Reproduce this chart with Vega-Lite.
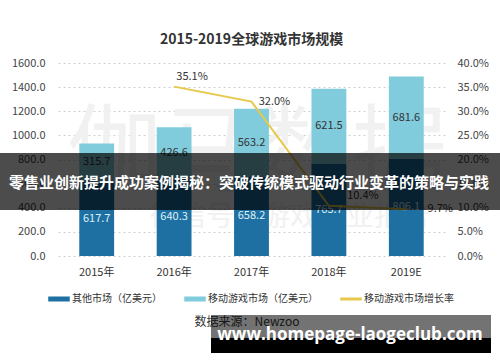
{
  "$schema": "https://vega.github.io/schema/vega-lite/v6.json",
  "width": 387,
  "height": 193,
  "autosize": {"type": "none"},
  "padding": {"left": 58, "top": 63, "right": 55, "bottom": 106},
  "background": "white",
  "config": {
    "font": "Noto Sans CJK SC",
    "view": {"stroke": null},
    "axis": {"labelFont": "Noto Sans CJK SC", "labelColor": "#444", "labelFontSize": 11, "labelOverlap": false}
  },
  "title": {
    "text": "2015-2019全球游戏市场规模",
    "fontSize": 14,
    "fontWeight": "bold",
    "color": "#333",
    "anchor": "middle",
    "frame": "group",
    "offset": 10
  },
  "datasets": {
    "bars": [
      {"year": "2015年", "series": "其他市场（亿美元）", "value": 617.7},
      {"year": "2015年", "series": "移动游戏市场（亿美元）", "value": 315.7},
      {"year": "2016年", "series": "其他市场（亿美元）", "value": 640.3},
      {"year": "2016年", "series": "移动游戏市场（亿美元）", "value": 426.6},
      {"year": "2017年", "series": "其他市场（亿美元）", "value": 658.2},
      {"year": "2017年", "series": "移动游戏市场（亿美元）", "value": 563.2},
      {"year": "2018年", "series": "其他市场（亿美元）", "value": 765.7},
      {"year": "2018年", "series": "移动游戏市场（亿美元）", "value": 621.5},
      {"year": "2019E", "series": "其他市场（亿美元）", "value": 806.1},
      {"year": "2019E", "series": "移动游戏市场（亿美元）", "value": 681.6}
    ],
    "growth": [
      {"year": "2016年", "rate": 0.351},
      {"year": "2017年", "rate": 0.320},
      {"year": "2018年", "rate": 0.104},
      {"year": "2019E", "rate": 0.097}
    ]
  },
  "layer": [
    {
      "data": {"values": [{"t": "伽马数据"}]},
      "mark": {"type": "text", "fontSize": 95, "color": "#f1f1f1", "align": "center", "baseline": "middle", "letterSpacing": 8},
      "encoding": {"text": {"field": "t"}, "x": {"value": 199}, "y": {"value": 92}}
    },
    {
      "data": {"values": [{"t": "微信号：游戏产业报告"}]},
      "mark": {"type": "text", "fontSize": 28, "color": "#f1f1f1", "align": "center", "baseline": "middle", "letterSpacing": 6},
      "encoding": {"text": {"field": "t"}, "x": {"value": 232}, "y": {"value": 155}}
    },
    {
      "layer": [
        {
          "data": {"name": "bars"},
          "transform": [
            {"stack": "value", "groupby": ["year"], "sort": [{"field": "series", "order": "ascending"}], "as": ["v0", "v1"]}
          ],
          "mark": {"type": "bar"},
          "encoding": {
            "x": {
              "field": "year", "type": "nominal", "sort": null,
              "scale": {"paddingInner": 0.55, "paddingOuter": 0.275},
              "axis": {"title": null, "domain": false, "ticks": false, "labelAngle": 0, "labelPadding": 10, "labelColor": "#333"}
            },
            "y": {
              "field": "v0", "type": "quantitative",
              "scale": {"domain": [0, 1600], "nice": false},
              "axis": {
                "title": null, "values": [0, 200, 400, 600, 800, 1000, 1200, 1400, 1600],
                "format": ".1f", "domain": false, "ticks": false, "labelPadding": 13, "labelOverlap": false,
                "grid": true, "gridColor": "#cfcfcf", "gridDash": [2, 3]
              }
            },
            "y2": {"field": "v1"},
            "color": {
              "field": "series", "type": "nominal",
              "scale": {
                "domain": ["其他市场（亿美元）", "移动游戏市场（亿美元）", "移动游戏市场增长率"],
                "range": ["#1d70a1", "#80cbdc", "#e6c84a"]
              },
              "legend": {
                "title": null,
                "orient": "none",
                "legendX": -10,
                "legendY": 225,
                "direction": "horizontal",
                "labelFontSize": 10,
                "labelColor": "#333",
                "labelFont": "Noto Sans CJK SC",
                "symbolSize": 400,
                "symbolType": "M-1,-0.18H1V0.18H-1Z",
                "labelOffset": 2,
                "columnPadding": 20,
                "encode": {
                  "symbols": {
                    "update": {
                      "shape": {"signal": "datum.value === '移动游戏市场增长率' ? 'M-1,-0.08H1V0.08H-1Z' : 'M-1,-0.18H1V0.18H-1Z'"},
                      "fill": {"scale": "color", "field": "value"},
                      "stroke": {"value": "transparent"},
                      "opacity": {"value": 1}
                    }
                  }
                }
              }
            }
          }
        },
        {
          "data": {"name": "bars"},
          "transform": [
            {"stack": "value", "groupby": ["year"], "sort": [{"field": "series", "order": "ascending"}], "as": ["v0", "v1"]},
            {"calculate": "(datum.v0 + datum.v1) / 2", "as": "mid"}
          ],
          "mark": {"type": "text", "fontSize": 11, "baseline": "middle", "align": "center"},
          "encoding": {
            "x": {"field": "year", "type": "nominal", "sort": null},
            "y": {
              "field": "mid", "type": "quantitative",
              "axis": {
                "title": null, "values": [0, 200, 400, 600, 800, 1000, 1200, 1400, 1600],
                "format": ".1f", "domain": false, "ticks": false, "labelPadding": 13, "labelOverlap": false,
                "grid": true, "gridColor": "#cfcfcf", "gridDash": [2, 3]
              }
            },
            "text": {"field": "value", "type": "quantitative", "format": ".1f"},
            "color": {
              "condition": {"test": "datum.series === '其他市场（亿美元）'", "value": "#dff0f7"},
              "value": "#333333"
            }
          }
        }
      ]
    },
    {
      "data": {"name": "growth"},
      "layer": [
        {
          "mark": {"type": "line", "color": "#e6c84a", "strokeWidth": 2},
          "encoding": {
            "x": {"field": "year", "type": "nominal", "sort": null},
            "y": {
              "field": "rate", "type": "quantitative",
              "scale": {"domain": [0, 0.4], "nice": false},
              "axis": {
                "title": null, "orient": "right", "values": [0, 0.05, 0.1, 0.15, 0.2, 0.25, 0.3, 0.35, 0.4],
                "format": ".1%", "domain": false, "ticks": false, "labelOverlap": false,
                "labelPadding": 12, "grid": false
              }
            },
            "color": {"datum": "移动游戏市场增长率"}
          }
        },
        {
          "mark": {
            "type": "text", "fontSize": 11, "color": "#333", "align": "center", "baseline": "middle",
            "dx": {"expr": "datum.year === '2016年' ? 18 : datum.year === '2017年' ? 23 : 34"},
            "dy": {"expr": "datum.year === '2016年' || datum.year === '2018年' ? -10 : 0"}
          },
          "encoding": {
            "x": {"field": "year", "type": "nominal", "sort": null},
            "y": {
              "field": "rate", "type": "quantitative",
              "axis": {
                "title": null, "orient": "right", "values": [0, 0.05, 0.1, 0.15, 0.2, 0.25, 0.3, 0.35, 0.4],
                "format": ".1%", "domain": false, "ticks": false, "labelOverlap": false,
                "labelPadding": 12, "grid": false
              }
            },
            "text": {"field": "rate", "type": "quantitative", "format": ".1%"}
          }
        }
      ]
    },
    {
      "data": {"values": [{"t": "零售业创新提升成功案例揭秘：突破传统模式驱动行业变革的策略与实践"}]},
      "layer": [
        {
          "mark": {"type": "rect", "color": "#000", "opacity": 0.7},
          "encoding": {"x": {"value": -58}, "x2": {"value": 442}, "y": {"value": 90}, "y2": {"value": 147}}
        },
        {
          "mark": {"type": "text", "color": "#fff", "fontSize": 15, "fontWeight": "bold", "align": "center", "baseline": "middle"},
          "encoding": {"text": {"field": "t"}, "x": {"value": 191}, "y": {"value": 120}}
        }
      ]
    },
    {
      "data": {"values": [{"t": "数据来源：Newzoo"}]},
      "mark": {"type": "text", "color": "#333", "fontSize": 12, "align": "center", "baseline": "middle"},
      "encoding": {"text": {"field": "t"}, "x": {"value": 189}, "y": {"value": 259}}
    },
    {
      "data": {"values": [{"t": "www.homepage-laogeclub.com"}]},
      "layer": [
        {
          "mark": {"type": "rect", "color": "#000", "opacity": 0.55},
          "encoding": {"x": {"value": 153}, "x2": {"value": 433}, "y": {"value": 252}, "y2": {"value": 275}}
        },
        {
          "mark": {"type": "rect", "color": "#000", "opacity": 1},
          "encoding": {"x": {"value": 153}, "x2": {"value": 433}, "y": {"value": 275}, "y2": {"value": 290}}
        },
        {
          "mark": {"type": "text", "color": "#fff", "fontSize": 17, "fontWeight": "bold", "font": "Open Sans", "align": "center", "baseline": "middle"},
          "encoding": {"text": {"field": "t"}, "x": {"value": 292}, "y": {"value": 272}}
        }
      ]
    }
  ],
  "resolve": {"scale": {"y": "independent"}}
}
